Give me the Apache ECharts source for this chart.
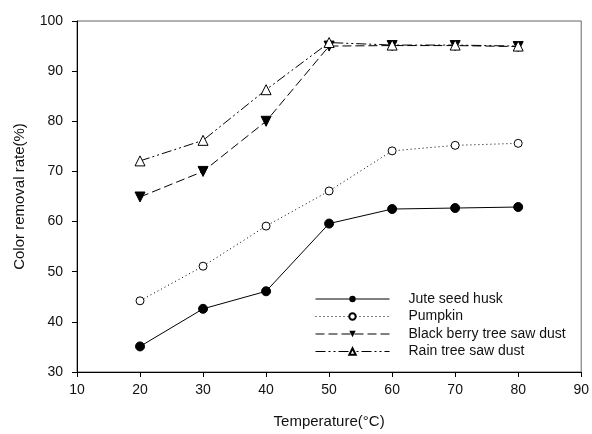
<!DOCTYPE html>
<html><head><meta charset="utf-8">
<script src="https://cdn.jsdelivr.net/npm/echarts@6/dist/echarts.min.js"></script>
<style>html,body{margin:0;padding:0;background:#fff}#c{width:592px;height:434px}</style>
</head><body><div id="c"></div>
<script>
const temperatures = [20, 30, 40, 50, 60, 70, 80];
const juteSeedHusk = [35.1, 42.6, 46.1, 59.6, 62.5, 62.7, 62.9];
const pumpkin = [44.2, 51.1, 59.1, 66.1, 74.1, 75.2, 75.6];
const blackBerry = [64.9, 70.0, 80.0, 95.0, 95.1, 95.1, 94.9];
const rainTree = [72.1, 76.2, 86.3, 95.7, 95.2, 95.2, 95.0];
const seriesNames = ['Jute seed husk', 'Pumpkin', 'Black berry tree saw dust', 'Rain tree saw dust'];

const font = 'Liberation Sans, Arial, sans-serif';
function pts(arr){ return temperatures.map((t,i)=>[t, arr[i]]); }
const chart = echarts.init(document.getElementById('c'), null, {renderer:'canvas'});
chart.setOption({
  animation:false,
  backgroundColor:'#fff',
  grid:{left:77, top:21, right:7, bottom:59, show:true, borderColor:'#666', borderWidth:1},
  legend:{
    orient:'vertical', left:315, top:292, padding:0, itemWidth:74, itemHeight:8, itemGap:3.5,
    lineStyle:{width:1},
    textStyle:{fontFamily:font, fontSize:14, lineHeight:14, color:'#111', padding:[0,0,0,14]},
    data:seriesNames
  },
  xAxis:{
    type:'value', min:10, max:90, interval:10,
    name:'Temperature(°C)', nameLocation:'middle', nameGap:42,
    nameTextStyle:{fontFamily:font, fontSize:15, color:'#111'},
    axisLine:{lineStyle:{color:'#000', width:1}},
    axisTick:{show:true, inside:false, length:5, lineStyle:{color:'#000'}},
    axisLabel:{fontFamily:font, fontSize:14, color:'#111', margin:11},
    splitLine:{show:false}
  },
  yAxis:{
    type:'value', min:30, max:100, interval:10,
    name:'Color removal rate(%)', nameLocation:'middle', nameGap:50, nameRotate:90,
    nameTextStyle:{fontFamily:font, fontSize:15, color:'#111'},
    axisLine:{show:true, lineStyle:{color:'#000', width:1}},
    axisTick:{show:true, inside:false, length:5, lineStyle:{color:'#000'}},
    axisLabel:{fontFamily:font, fontSize:14, color:'#111', margin:14},
    splitLine:{show:false}
  },
  series:[
    {name:seriesNames[0], type:'line', data:pts(juteSeedHusk), symbol:'circle', symbolSize:9,
     itemStyle:{color:'#000', borderColor:'#000'}, lineStyle:{color:'#000', width:1, type:'solid'}},
    {name:seriesNames[1], type:'line', data:pts(pumpkin), symbol:'circle', symbolSize:8,
     itemStyle:{color:'#fff', borderColor:'#000', borderWidth:1}, lineStyle:{color:'#000', width:1, type:[1,3]}},
    {name:seriesNames[2], type:'line', data:pts(blackBerry), symbol:'triangle', symbolRotate:180, symbolSize:10,
     itemStyle:{color:'#000', borderColor:'#000'}, lineStyle:{color:'#000', width:1, type:[9,4]}},
    {name:seriesNames[3], type:'line', data:pts(rainTree), symbol:'triangle', symbolSize:10,
     itemStyle:{color:'#fff', borderColor:'#000', borderWidth:1}, lineStyle:{color:'#000', width:1, type:[10,3,2,3,2,3]}}
  ]
});
</script></body></html>
